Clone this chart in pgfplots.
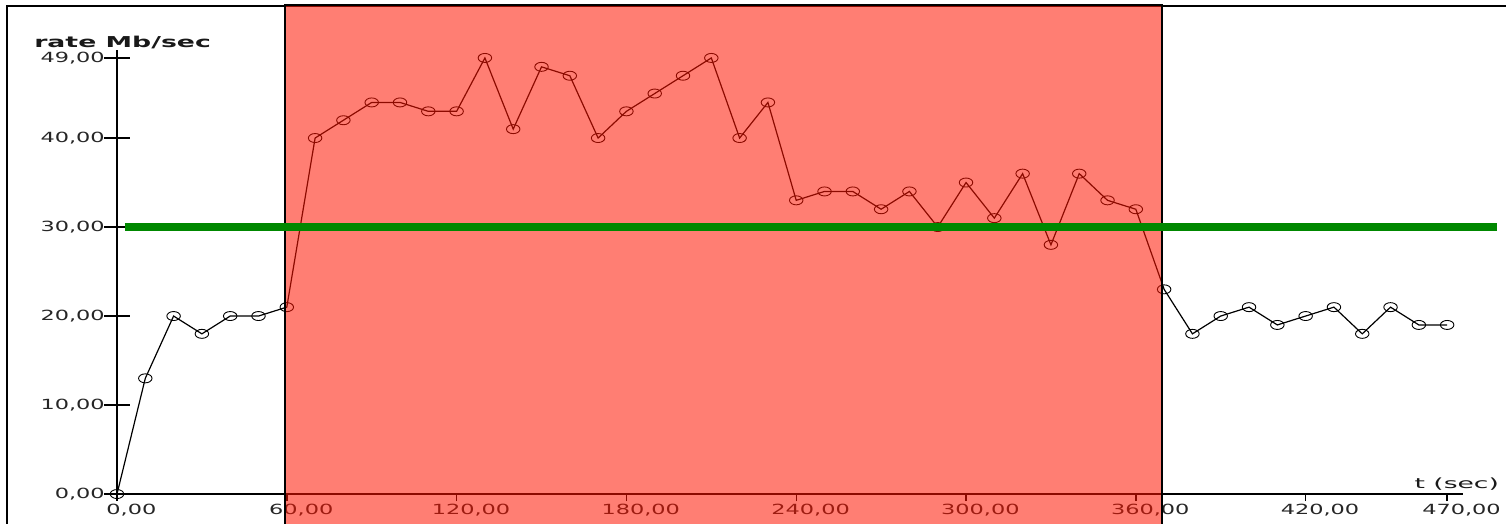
\documentclass[border=0pt]{standalone}
\usepackage{fontspec}
\setmainfont{DejaVu Sans}
\usepackage{pgfplots}
\pgfplotsset{compat=1.18}
\definecolor{gline}{RGB}{0,136,0}
\definecolor{ovl}{RGB}{255,20,0}
\begin{document}
\begin{tikzpicture}
\pgfplotsset{common/.style={
  x=2.83pt, y=8.9pt,
  xmin=0, xmax=475.6, ymin=0, ymax=49.9,
  at={(0,0)}, anchor=south west, clip=false,
  tick style={line width=1.4pt, black},
  tick label style={font=\fontsize{14}{16}\selectfont, text=black!85, xscale=1.6},
},
noarrows/.style={
  axis line style={line width=1.6pt, black},
  every outer x axis line/.append style={-},
  every inner x axis line/.append style={-},
  every outer y axis line/.append style={-},
  every inner y axis line/.append style={-},
  x axis line style={-}, y axis line style={-},
}}
\begin{axis}[common,
  axis x line=none, axis y line=left, noarrows,
  ytick={0,10,20,30,40,49},
  yticklabels={{0,00},{10,00},{20,00},{30,00},{40,00},{49,00}},
  tick align=center, major tick length=26pt,
  y tick label style={xshift=4pt},
  ylabel={rate Mb/sec},
  every axis y label/.style={at={(rel axis cs:-0.0661,1.0045)}, anchor=base west,
     font=\fontsize{15}{17}\selectfont\bfseries, text=black!90, xscale=1.78},
]
\coordinate (bl) at (axis cs:-41.34,-3.258);
\coordinate (tr) at (axis cs:490.8,55.51);
\coordinate (fbl) at (axis cs:-38.87,-10);
\coordinate (ftl) at (axis cs:-38.87,54.83);
\coordinate (ftr) at (axis cs:530,54.83);
\end{axis}
\begin{axis}[common, set layers,
  axis x line=bottom, axis y line=none, noarrows,
  xtick={0,60,120,180,240,300,360,420,470},
  xticklabels={{0,00},{60,00},{120,00},{180,00},{240,00},{300,00},{360,00},{420,00},{470,00}},
  tick align=outside, major tick length=7pt,
  x tick label style={anchor=north, xshift=9pt},
  xlabel={t (sec)},
  every axis x label/.style={at={(rel axis cs:0.959,0.0135)}, anchor=base west,
     font=\fontsize{14}{16}\selectfont, text=black!90, xscale=1.9},
]
\addplot[black, line width=1.2pt, mark=o, mark size=4.5pt,
  mark options={xscale=1.5, line width=0.9pt}] table {
t r
0 0
10 13
20 20
30 18
40 20
50 20
60 21
70 40
80 42
90 44
100 44
110 43
120 43
130 49
140 41
150 48
160 47
170 40
180 43
190 45
200 47
210 49
220 40
230 44
240 33
250 34
260 34
270 32
280 34
290 30
300 35
310 31
320 36
330 28
340 36
350 33
360 32
370 23
380 18
390 20
400 21
410 19
420 20
430 21
440 18
450 21
460 19
470 19
};
\addplot[on layer=axis foreground, draw=black, line width=2pt, fill=ovl, fill opacity=0.55]
  coordinates {(59.4,-5) (59.4,54.9) (369.3,54.9) (369.3,-5)} -- cycle;
\addplot[on layer=axis foreground, gline, line width=8pt]
  coordinates {(2.8,30) (487.6,30)};
\end{axis}
\draw[line width=2.4pt] (fbl) -- (ftl) -- (ftr);
\pgfresetboundingbox
\path[use as bounding box] (bl) rectangle (tr);
\end{tikzpicture}
\end{document}
